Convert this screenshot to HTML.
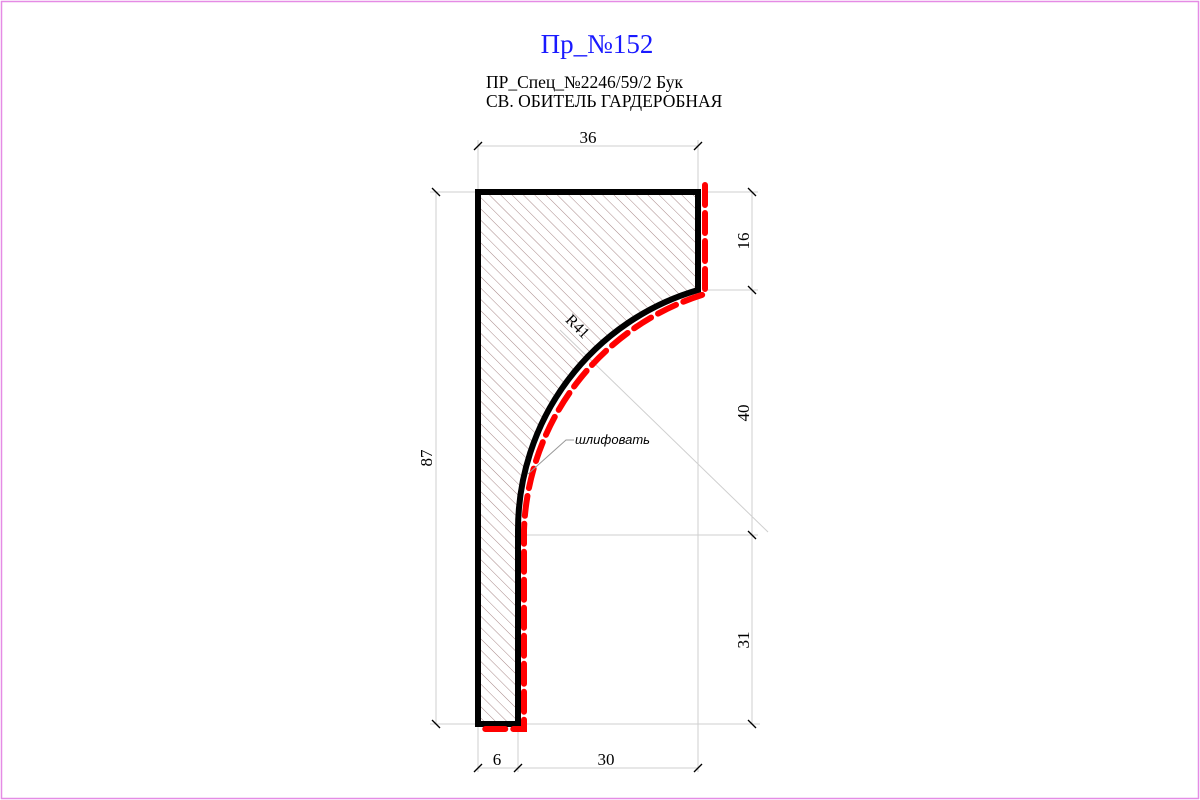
<!DOCTYPE html>
<html><head><meta charset="utf-8"><style>
html,body{margin:0;padding:0;background:#fff}
svg{display:block}
text{font-family:"Liberation Serif",serif;fill:#000}
</style></head><body>
<svg width="1200" height="800" viewBox="0 0 1200 800">
<defs>
<pattern id="hatch" width="8" height="8" patternUnits="userSpaceOnUse" patternTransform="rotate(-45)">
<line x1="0" y1="0" x2="0" y2="8" stroke="#a88888" stroke-width="1"/>
</pattern>
</defs>
<rect x="1.5" y="1.5" width="1197" height="797" fill="none" stroke="#e58be5" stroke-width="1.5"/>
<text x="597" y="53" font-size="27" text-anchor="middle" style="fill:#1a1aff">Пр_№152</text>
<text x="486" y="88" font-size="17.5">ПР_Спец_№2246/59/2 Бук</text>
<text x="486" y="107" font-size="17.5">СВ. ОБИТЕЛЬ ГАРДЕРОБНАЯ</text>

<g stroke="#cfcfcf" stroke-width="1" fill="none">
<line x1="478" y1="146" x2="698" y2="146"/>
<line x1="478" y1="140" x2="478" y2="190"/>
<line x1="698" y1="140" x2="698" y2="772"/>
<line x1="436" y1="192" x2="436" y2="724"/>
<line x1="430" y1="192" x2="478" y2="192"/>
<line x1="430" y1="724" x2="760" y2="724"/>
<line x1="752" y1="192" x2="752" y2="724"/>
<line x1="706" y1="192" x2="758" y2="192"/>
<line x1="706" y1="290" x2="758" y2="290"/>
<line x1="522" y1="535" x2="758" y2="535"/>
<line x1="478" y1="726" x2="478" y2="772"/>
<line x1="518" y1="726" x2="518" y2="772"/>
<line x1="478" y1="768" x2="698" y2="768"/>
<line x1="560" y1="330" x2="768" y2="532"/>
</g>
<g stroke="#000" stroke-width="1.3">
<line x1="474" y1="150" x2="482" y2="142"/><line x1="694" y1="150" x2="702" y2="142"/>
<line x1="432" y1="188" x2="440" y2="196"/><line x1="432" y1="720" x2="440" y2="728"/>
<line x1="748" y1="188" x2="756" y2="196"/><line x1="748" y1="286" x2="756" y2="294"/>
<line x1="748" y1="531" x2="756" y2="539"/><line x1="748" y1="720" x2="756" y2="728"/>
<line x1="474" y1="772" x2="482" y2="764"/><line x1="514" y1="772" x2="522" y2="764"/><line x1="694" y1="772" x2="702" y2="764"/>
</g>
<g font-size="17">
<text x="588" y="143" text-anchor="middle">36</text>
<text x="497" y="765" text-anchor="middle">6</text>
<text x="606" y="765" text-anchor="middle">30</text>
<text transform="translate(432,458) rotate(-90)" text-anchor="middle">87</text>
<text transform="translate(749,241) rotate(-90)" text-anchor="middle">16</text>
<text transform="translate(749,413) rotate(-90)" text-anchor="middle">40</text>
<text transform="translate(749,640) rotate(-90)" text-anchor="middle">31</text>
<text transform="translate(574,330) rotate(45)" text-anchor="middle" font-size="16">R41</text>
</g>

<path d="M478 192 L698 192 L698 290 A250 250 0 0 0 518 530 L518 724 L478 724 Z" fill="url(#hatch)" stroke="#000" stroke-width="6" stroke-linejoin="miter"/>
<path d="M705 185 L705 294 A256 256 0 0 0 524 530 L524 729 L478 729" fill="none" stroke="#ff0000" stroke-width="6" stroke-dasharray="20 8" stroke-linecap="round"/>

<polyline points="528,474 566,440 574,440" fill="none" stroke="#999" stroke-width="1"/>
<text x="575" y="444" font-size="13" font-style="italic" style="font-family:'Liberation Sans',sans-serif">шлифовать</text>
</svg>
</body></html>
